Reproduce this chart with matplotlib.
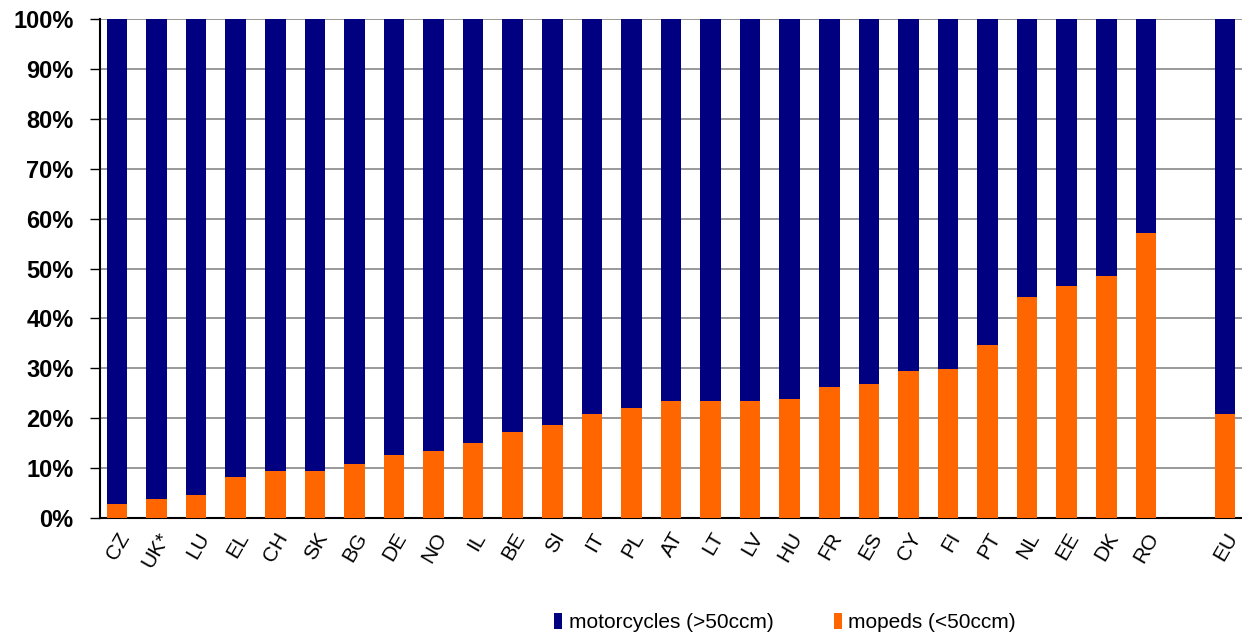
import matplotlib.pyplot as plt
import numpy as np

plt.rcParams['font.family'] = ['Liberation Sans', 'DejaVu Sans']

countries = ["CZ", "UK*", "LU", "EL", "CH", "SK", "BG", "DE", "NO", "IL", "BE", "SI",
             "IT", "PL", "AT", "LT", "LV", "HU", "FR", "ES", "CY", "FI", "PT", "NL",
             "EE", "DK", "RO", "EU"]
mopeds = [2.8, 3.9, 4.6, 8.3, 9.4, 9.4, 10.9, 12.7, 13.4, 15.0, 17.3, 18.7,
          20.9, 22.0, 23.5, 23.5, 23.5, 23.9, 26.3, 26.8, 29.5, 29.9, 34.6, 44.3,
          46.5, 48.6, 57.2, 20.9]
motorcycles = [100 - m for m in mopeds]

# one empty slot between RO and EU
pos = np.arange(len(countries), dtype=float)
pos[-1] += 1

fig = plt.figure(figsize=(12.42, 6.38), dpi=100)
ax = fig.add_axes([0.0805, 0.188, 0.9195, 0.782])

ax.bar(pos, mopeds, width=0.52, color="#FF6600", label="mopeds (<50ccm)", zorder=3)
ax.bar(pos, motorcycles, width=0.52, bottom=mopeds, color="#000080",
       label="motorcycles (>50ccm)", zorder=3)

ax.set_ylim(0, 100)
ax.set_xlim(-0.43, pos[-1] + 0.43)
ax.set_yticks(np.arange(0, 101, 10))
ax.set_yticklabels([f"{v}%" for v in range(0, 101, 10)], fontsize=17, fontweight="bold")
ax.yaxis.grid(True, color="#888888", linewidth=1.2, zorder=0)
ax.tick_params(axis="y", length=7, width=1, pad=12)
ax.tick_params(axis="x", length=0, pad=8)
ax.set_xticks(pos)
ax.set_xticklabels(countries, rotation=60, ha="right", rotation_mode="anchor", fontsize=15)

for s in ["top", "right"]:
    ax.spines[s].set_visible(False)
ax.spines["left"].set_linewidth(1.5)
ax.spines["bottom"].set_linewidth(1.5)

h, l = ax.get_legend_handles_labels()
fig.legend(h[::-1], l[::-1], loc="center", bbox_to_anchor=(0.632, 0.024), ncol=2,
           frameon=False, fontsize=15, handlelength=0.4, handleheight=0.8,
           handletextpad=0.3, columnspacing=2.9)

fig.savefig("out.png", dpi=100)
